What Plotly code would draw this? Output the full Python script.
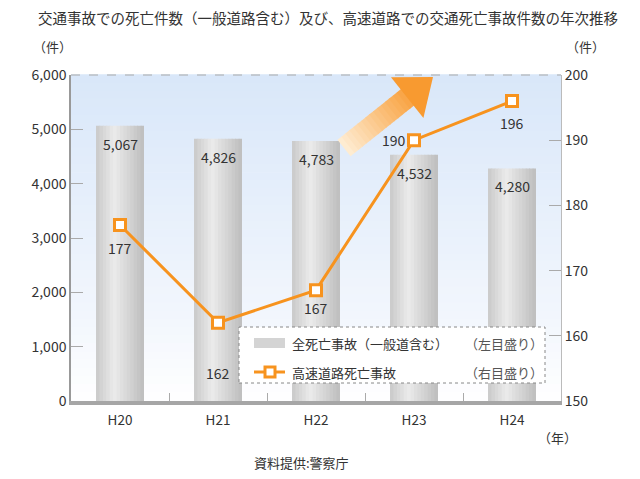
import plotly.graph_objects as go

# ---- data ----
years = ["H20", "H21", "H22", "H23", "H24"]
all_deaths = [5067, 4826, 4783, 4532, 4280]          # left axis
highway_deaths = [177, 162, 167, 190, 196]           # right axis

title_text = "交通事故での死亡件数（一般道路含む）及び、高速道路での交通死亡事故件数の年次推移"
legend_bar = "全死亡事故（一般道含む）"
legend_line = "高速道路死亡事故"
legend_left = "（左目盛り）"
legend_right = "（右目盛り）"
unit_left = "（件）"
unit_right = "（件）"
unit_year = "（年）"
source_text = "資料提供:警察庁"

# ---- layout geometry (pixels) ----
W, H = 640, 479
PL, PR, PT, PB = 71, 561, 75, 401
FONT = "Noto Sans CJK JP"
ORANGE = "#f7931e"
TXT = "#333333"


def px_x(x):
    return (x - PL) / (PR - PL)


def px_y(y):
    return (PB - y) / (PB - PT)


def hex2rgb(h):
    h = h.lstrip("#")
    return tuple(int(h[i:i + 2], 16) for i in (0, 2, 4))


def lerp_color(c1, c2, t):
    a, b = hex2rgb(c1), hex2rgb(c2)
    return "rgb(%d,%d,%d)" % tuple(round(a[i] + (b[i] - a[i]) * t) for i in range(3))


def grad_color(stops, t):
    for (t0, c0), (t1, c1) in zip(stops, stops[1:]):
        if t0 <= t <= t1:
            return lerp_color(c0, c1, (t - t0) / (t1 - t0) if t1 > t0 else 0)
    return stops[-1][1]


fig = go.Figure()

# ---- bars: drawn as vertical strips to imitate a horizontal gradient ----
BAR_W = 0.49
N_STRIPS = 14
bar_stops = [(0.0, "#c9c9c9"), (0.38, "#ebebeb"), (1.0, "#bdbdbd")]
for i in range(N_STRIPS):
    t = (i + 0.5) / N_STRIPS
    sw = BAR_W / N_STRIPS
    fig.add_trace(go.Bar(
        x=years, y=all_deaths,
        width=sw * 1.25 if i < N_STRIPS - 1 else sw,
        offset=-BAR_W / 2 + i * sw,
        marker=dict(color=grad_color(bar_stops, t), line=dict(width=0)),
        showlegend=False, hoverinfo="skip", yaxis="y",
    ))

# ---- line (right axis) ----
fig.add_trace(go.Scatter(
    x=years, y=highway_deaths, mode="lines+markers", yaxis="y2",
    line=dict(color=ORANGE, width=3),
    marker=dict(symbol="square", size=11, color="white",
                line=dict(color=ORANGE, width=3)),
    showlegend=False, hoverinfo="skip",
))

annotations = []
# bar value labels
for cat, v in zip(years, all_deaths):
    annotations.append(dict(
        x=cat, y=v, xref="x", yref="y", text=f"{v:,}", showarrow=False,
        xanchor="center", yanchor="top", yshift=-6,
        font=dict(family=FONT, size=14, color=TXT)))

# line value labels (per-point placement)
line_label_shift = [(0, -23), (0, -50), (0, -18), (-20, 0), (0, -22)]
for cat, v, (xs, ys) in zip(years, highway_deaths, line_label_shift):
    annotations.append(dict(
        x=cat, y=v, xref="x", yref="y2", text=str(v), showarrow=False,
        xanchor="center", yanchor="middle",
        xshift=xs, yshift=ys, font=dict(family=FONT, size=14, color=TXT)))


def txt(x, y, s, anchor="center", color=TXT, size=13):
    return dict(x=px_x(x), y=px_y(y), xref="paper", yref="paper", text=s,
                xanchor=anchor, yanchor="middle", showarrow=False,
                font=dict(family=FONT, size=size, color=color))


# texts around the chart
annotations += [
    txt(328, 18, title_text, size=14.5),
    txt(52, 46, unit_left),
    txt(585, 46, unit_right),
    txt(557, 437, unit_year),
    txt(301, 462, source_text),
    # legend texts
    txt(290, 343, legend_bar, anchor="left"),
    txt(290, 372, legend_line, anchor="left"),
    txt(545, 343, legend_left, anchor="right", color="#555555"),
    txt(545, 372, legend_right, anchor="right", color="#555555"),
]

shapes = []
# background gradient of the plot area
N_BG = 40
for i in range(N_BG):
    t = i / N_BG
    shapes.append(dict(
        type="rect", xref="paper", yref="paper", x0=0, x1=1,
        y0=1 - (i + 1) / N_BG, y1=1 - i / N_BG + 0.002,
        fillcolor=grad_color([(0, "#d9e7f9"), (0.75, "#f3f7fd"), (1, "#ffffff")], t),
        line=dict(width=0), layer="below"))
# top dashed border
shapes.append(dict(type="line", xref="paper", yref="paper", x0=0, x1=1, y0=1, y1=1,
                   line=dict(color="#aaaaaa", width=1, dash="dash"), layer="above"))

# decorative trend arrow (gradient shaft + head)
tail = (344, 148)
tip = (433, 77)
dx, dy = tip[0] - tail[0], tip[1] - tail[1]
L = (dx * dx + dy * dy) ** 0.5
ux, uy = dx / L, dy / L
nx, ny = -uy, ux
HEAD_L, HEAD_HW, SHAFT_HW = 33, 26, 10.5
shaft_len = L - HEAD_L
N_AR = 16


def pt(s, w):
    return (tail[0] + ux * s + nx * w, tail[1] + uy * s + ny * w)


def path_of(pts):
    return "M " + " L ".join(f"{px_x(x):.5f},{px_y(y):.5f}" for x, y in pts) + " Z"


for i in range(N_AR):
    s0 = shaft_len * i / N_AR
    s1 = shaft_len * (i + 1) / N_AR + 0.8
    c = grad_color([(0, "#feeed6"), (1, "#f9a444")], (i + 0.5) / N_AR)
    shapes.append(dict(type="path", xref="paper", yref="paper",
                       path=path_of([pt(s0, -SHAFT_HW), pt(s1, -SHAFT_HW),
                                     pt(s1, SHAFT_HW), pt(s0, SHAFT_HW)]),
                       fillcolor=c, line=dict(width=0), layer="above"))
shapes.append(dict(type="path", xref="paper", yref="paper",
                   path=path_of([pt(shaft_len, -HEAD_HW), pt(L, 0), pt(shaft_len, HEAD_HW)]),
                   fillcolor="#f89a30", line=dict(width=0), layer="above"))

# legend box
shapes.append(dict(type="rect", xref="paper", yref="paper",
                   x0=px_x(239), x1=px_x(545), y0=px_y(383), y1=px_y(327),
                   fillcolor="white", line=dict(color="#888888", width=1, dash="dot"),
                   layer="above"))
shapes.append(dict(type="rect", xref="paper", yref="paper",
                   x0=px_x(254), x1=px_x(285), y0=px_y(348), y1=px_y(338),
                   fillcolor="#d4d4d4", line=dict(width=0), layer="above"))
shapes.append(dict(type="line", xref="paper", yref="paper",
                   x0=px_x(254), x1=px_x(285), y0=px_y(372), y1=px_y(372),
                   line=dict(color=ORANGE, width=3), layer="above"))
shapes.append(dict(type="rect", xref="paper", yref="paper",
                   x0=px_x(265), x1=px_x(275), y0=px_y(377), y1=px_y(367),
                   fillcolor="white", line=dict(color=ORANGE, width=3), layer="above"))

fig.update_layout(
    width=W, height=H,
    margin=dict(l=PL, r=W - PR, t=PT, b=H - PB, pad=0),
    paper_bgcolor="white", plot_bgcolor="white",
    barmode="overlay", showlegend=False,
    font=dict(family=FONT, size=13, color=TXT),
    xaxis=dict(type="category", categoryorder="array", categoryarray=years,
               range=[-0.5, 4.5], showgrid=False, zeroline=False,
               showline=True, linecolor="#a6a6a6", linewidth=4,
               ticks="inside", tickson="boundaries", ticklen=8, tickcolor="#aaaaaa",
               ticklabelstandoff=4,
               tickfont=dict(family=FONT, size=13.5, color=TXT)),
    yaxis=dict(range=[0, 6000], dtick=1000, tickformat=",", showgrid=False,
               zeroline=False, showline=True, linecolor="#999999", linewidth=1.5,
               ticks="inside", ticklen=12, tickcolor="#aaaaaa",
               tickfont=dict(family=FONT, size=14, color=TXT)),
    yaxis2=dict(range=[150, 200], dtick=10, overlaying="y", side="right",
                showgrid=False, zeroline=False, showline=True, linecolor="#bbbbbb",
                linewidth=1, ticks="inside", ticklen=12, tickcolor="#aaaaaa",
                tickfont=dict(family=FONT, size=14, color=TXT)),
    annotations=annotations, shapes=shapes,
)

fig.write_html("out.html")
